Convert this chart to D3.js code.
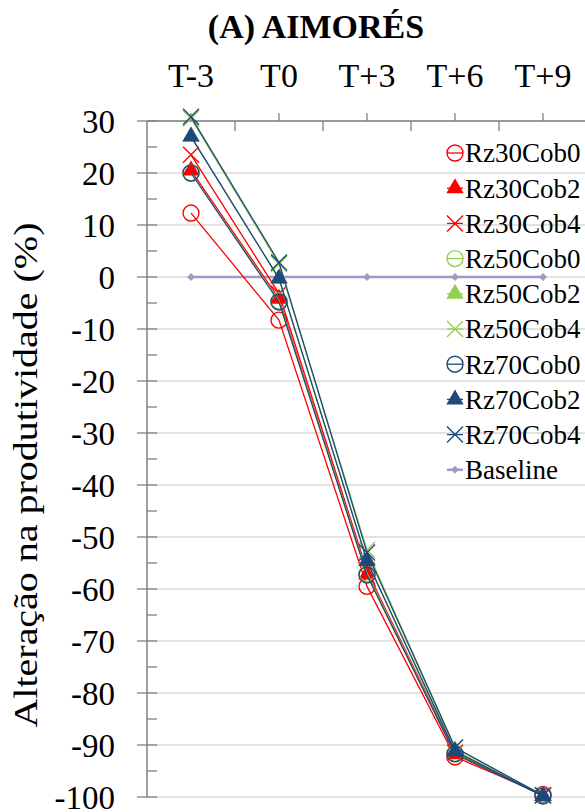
<!DOCTYPE html>
<html>
<head>
<meta charset="utf-8">
<script src="https://cdn.jsdelivr.net/npm/d3@7"></script>
<style>
  body { margin: 0; background: #fff; }
  svg text { font-family: "Liberation Serif"; }
</style>
</head>
<body>
<svg width="585" height="812"></svg>
<script>
// data
var categories = ["T-3", "T0", "T+3", "T+6", "T+9"];
var rz30cob0 = [12.3, -8.3, -59.5, -92.3, -99.5];
var rz30cob2 = [20.5, -4.2, -57.2, -91.8, -99.7];
var rz30cob4 = [23.5, -3.2, -56.5, -91.5, -99.6];
var rz50cob0 = [20.0, -4.6, -57.0, -91.6, -99.7];
var rz50cob2 = [27.0, -0.3, -54.5, -91.0, -99.8];
var rz50cob4 = [30.5, 2.5, -52.5, -90.5, -99.7];
var rz70cob0 = [20.0, -4.8, -57.3, -91.7, -99.8];
var rz70cob2 = [27.0, -0.3, -54.6, -91.2, -99.8];
var rz70cob4 = [30.8, 2.8, -53.0, -90.5, -99.7];
var baseline = [0, 0, 0, 0, 0];
var yTicks = d3.range(-100, 31, 10);

var red = "#ff0000", green = "#92d050", navy = "#1f497d", lav = "#a09bc5";

var series = [
  {name: "Rz30Cob0", values: rz30cob0, color: red, shape: "circle"},
  {name: "Rz30Cob2", values: rz30cob2, color: red, shape: "triangle"},
  {name: "Rz30Cob4", values: rz30cob4, color: red, shape: "x"},
  {name: "Rz50Cob0", values: rz50cob0, color: green, shape: "circle"},
  {name: "Rz50Cob2", values: rz50cob2, color: green, shape: "triangle"},
  {name: "Rz50Cob4", values: rz50cob4, color: green, shape: "x"},
  {name: "Rz70Cob0", values: rz70cob0, color: navy, shape: "circle"},
  {name: "Rz70Cob2", values: rz70cob2, color: navy, shape: "triangle"},
  {name: "Rz70Cob4", values: rz70cob4, color: navy, shape: "x"},
  {name: "Baseline", values: baseline, color: lav, shape: "diamond"}
];

var svg = d3.select("svg"),
    pLeft = 147, pRight = 587, pTop = 121, pBottom = 797;

var x = d3.scalePoint().domain(categories).range([pLeft, pRight]).padding(0.5);
var y = d3.scaleLinear().domain([-100, 30]).range([pBottom, pTop]);

function serif(sel, size) {
  return sel.attr("font-family", "Liberation Serif")
    .style("font-family", "Liberation Serif")
    .style("font-size", size + "px");
}

// gridlines
svg.append("g").selectAll("line")
  .data(yTicks)
  .enter().append("line")
  .attr("x1", pLeft).attr("x2", pRight)
  .attr("y1", function(d) { return y(d); }).attr("y2", function(d) { return y(d); })
  .attr("stroke", "#d9d9d9").attr("stroke-width", 1.3);

// y axis
var axisColor = "#808080";
svg.append("line").attr("x1", pLeft).attr("x2", pLeft).attr("y1", pTop).attr("y2", pBottom)
  .attr("stroke", axisColor).attr("stroke-width", 1.5);
svg.append("g").selectAll("line")
  .data(yTicks)
  .enter().append("line")
  .attr("x1", pLeft - 10).attr("x2", pLeft + 10)
  .attr("y1", function(d) { return y(d); }).attr("y2", function(d) { return y(d); })
  .attr("stroke", axisColor).attr("stroke-width", 1.3);
svg.append("g").selectAll("line")
  .data(yTicks.slice(0, -1))
  .enter().append("line")
  .attr("x1", pLeft).attr("x2", pLeft + 10)
  .attr("y1", function(d) { return y(d + 5); }).attr("y2", function(d) { return y(d + 5); })
  .attr("stroke", axisColor).attr("stroke-width", 1.3);
serif(svg.append("g").selectAll("text")
  .data(yTicks)
  .enter().append("text")
  .attr("x", 115)
  .attr("y", function(d) { return y(d); })
  .attr("dy", "0.35em")
  .attr("text-anchor", "end"), 33)
  .text(function(d) { return d; });

// x axis on top
svg.append("line").attr("x1", pLeft).attr("x2", pRight).attr("y1", pTop).attr("y2", pTop)
  .attr("stroke", axisColor).attr("stroke-width", 1.5);
svg.append("g").selectAll("line")
  .data(categories)
  .enter().append("line")
  .attr("x1", function(d) { return x(d); }).attr("x2", function(d) { return x(d); })
  .attr("y1", pTop - 8).attr("y2", pTop)
  .attr("stroke", axisColor).attr("stroke-width", 1.3);
svg.append("g").selectAll("line")
  .data(categories.slice(0, -1))
  .enter().append("line")
  .attr("x1", function(d) { return x(d) + x.step() / 2; }).attr("x2", function(d) { return x(d) + x.step() / 2; })
  .attr("y1", pTop).attr("y2", pTop + 10)
  .attr("stroke", axisColor).attr("stroke-width", 1.3);
serif(svg.append("g").selectAll("text")
  .data(categories)
  .enter().append("text")
  .attr("x", function(d) { return x(d); })
  .attr("y", 87)
  .attr("text-anchor", "middle"), 34)
  .text(function(d) { return d; });

// title
serif(svg.append("text")
  .attr("x", 316).attr("y", 38)
  .attr("text-anchor", "middle"), 34)
  .style("font-weight", "bold")
  .text("(A) AIMORÉS");

// y title
serif(svg.append("text")
  .attr("transform", "translate(37,475) rotate(-90)")
  .attr("text-anchor", "middle")
  .attr("textLength", 505).attr("lengthAdjust", "spacingAndGlyphs"), 34)
  .text("Alteração na produtividade (%)");

function marker(g, shape, color) {
  if (shape === "circle") {
    g.append("circle").attr("r", 8).attr("fill", "none").attr("stroke", color).attr("stroke-width", 1.4);
  } else if (shape === "triangle") {
    g.append("path").attr("d", d3.symbol().type(d3.symbolTriangle).size(130)).attr("fill", color);
  } else if (shape === "x") {
    g.append("path").attr("d", "M-8,-8L8,8M-8,8L8,-8").attr("stroke", color).attr("stroke-width", 1.4);
  } else {
    g.append("path").attr("d", "M0,-4L4,0L0,4L-4,0Z").attr("fill", color);
  }
}

var line = d3.line()
  .x(function(d, i) { return x(categories[i]); })
  .y(function(d) { return y(d); });

// baseline first, then the scenario series on top
var order = [series[9]].concat(series.slice(0, 9));
order.forEach(function(s) {
  svg.append("path")
    .datum(s.values)
    .attr("fill", "none")
    .attr("stroke", s.color)
    .attr("stroke-width", s.shape === "diamond" ? 2.5 : 1.3)
    .attr("d", line);
  s.values.forEach(function(v, i) {
    var g = svg.append("g").attr("transform", "translate(" + x(categories[i]) + "," + y(v) + ")");
    marker(g, s.shape, s.color);
  });
});

// legend
var leg = svg.append("g");
series.forEach(function(s, i) {
  var cy = 153 + i * 35.2;
  leg.append("line").attr("x1", 447).attr("x2", 463).attr("y1", cy).attr("y2", cy)
    .attr("stroke", s.color).attr("stroke-width", s.shape === "diamond" ? 2.5 : 1.3);
  var g = leg.append("g").attr("transform", "translate(455," + cy + ")");
  marker(g, s.shape, s.color);
  serif(leg.append("text")
    .attr("x", 465).attr("y", cy)
    .attr("dy", "0.35em"), 27)
    .text(s.name);
});
</script>
</body>
</html>
